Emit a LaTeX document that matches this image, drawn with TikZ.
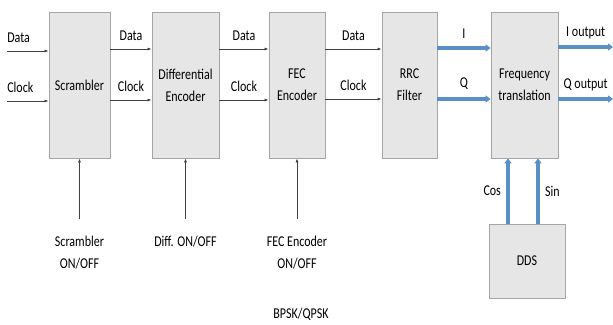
\documentclass[tikz,border=0pt]{standalone}
\usepackage{fontspec}
\setmainfont{Carlito}[FakeStretch=0.8]
\usepackage{tikz}
\usetikzlibrary{arrows.meta,positioning}
\definecolor{boxgray}{HTML}{E7E6E6}
\definecolor{edgegray}{HTML}{A5A5A5}
\definecolor{iqblue}{HTML}{5B8FC7}
\tikzset{
	box/.style={draw=edgegray, fill=boxgray, line width=0.8pt, minimum height=146pt, align=center, inner sep=1pt},
	sig/.style={draw=black!75, line width=0.7pt, -{Latex[length=4pt,width=3pt]}},
	iq/.style={draw=iqblue, line width=3.5pt, -{Triangle[length=5pt,width=7pt]}},
	ctltext/.style={align=center},
	tag/.style={above=4.5pt}
}

\begin{document}
\begin{tikzpicture}[x=1pt, y=-1pt, font=\fontsize{15}{22}\selectfont]
		\useasboundingbox (0,0) rectangle (613,324);
		% blocks
		\node[box, minimum width=61pt] (scr) at (79.5,85) {Scrambler};
		\node[box, minimum width=67pt] (dif) at (185.5,85) {Differential\\Encoder};
		\node[box, minimum width=56pt] (fec) at (297,85) {FEC\\Encoder};
		\node[box, minimum width=55pt] (rrc) at (409.5,85) {RRC\\Filter};
		\node[box, minimum width=67pt] (frq) at (524.5,85) {Frequency\\translation};
		\node[box, minimum width=76pt, minimum height=74pt] (dds) at (527,261) {DDS};
		% inputs
		\coordinate (din) at (7,51);
		\coordinate (cin) at (7,101);
		\draw[sig] (din) -- (din -| scr.west) node[pos=0, anchor=south west, inner xsep=0pt, yshift=4.5pt] {Data};
		\draw[sig] (cin) -- (cin -| scr.west) node[pos=0, anchor=south west, inner xsep=0pt, yshift=4.5pt] {Clock};
		% data and clock between blocks
		\draw[sig] ([yshift=36pt]scr.east) -- ([yshift=36pt]dif.west) node[midway, tag] {Data};
		\draw[sig] ([yshift=-15pt]scr.east) -- ([yshift=-15pt]dif.west) node[midway, tag] {Clock};
		\draw[sig] ([yshift=36pt]dif.east) -- ([yshift=36pt]fec.west) node[midway, tag] {Data};
		\draw[sig] ([yshift=-15pt]dif.east) -- ([yshift=-15pt]fec.west) node[midway, tag] {Clock};
		\draw[sig] ([yshift=36pt]fec.east) -- ([yshift=36pt]rrc.west) node[midway, tag] {Data};
		\draw[sig] ([yshift=-14pt]fec.east) -- ([yshift=-14pt]rrc.west) node[midway, tag] {Clock};
		% I and Q
		\draw[iq] ([yshift=37pt]rrc.east) -- ([yshift=37pt]frq.west) node[midway, tag] {I};
		\draw[iq] ([yshift=-14pt]rrc.east) -- ([yshift=-14pt]frq.west) node[midway, tag] {Q};
		\coordinate (iout) at (613,47);
		\coordinate (qout) at (613,99);
		\draw[iq] (frq.east |- iout) -- (iout) node[midway, above=3pt] {I output};
		\draw[iq] (frq.east |- qout) -- (qout) node[midway, above=3pt] {Q output};
		% DDS
		\draw[iq] ([xshift=-19pt]dds.north) -- ([xshift=-19pt]dds.north |- frq.south) node[midway, left=2pt] {Cos};
		\draw[iq] ([xshift=11pt]dds.north) -- ([xshift=11pt]dds.north |- frq.south) node[midway, right=2pt] {Sin};
		% settings
		\node[ctltext, below=74pt of scr.south] (scrctl) {Scrambler\\ON/OFF};
		\node[ctltext, below=74pt of dif.south] (difctl) {Diff. ON/OFF};
		\node[ctltext, below=74pt of fec.south] (fecctl) {FEC Encoder\\ON/OFF};
		\node (mode) at (301,314) {BPSK/QPSK};
		\draw[sig] ([yshift=13pt]scrctl.north) -- (scr.south);
		\draw[sig] ([yshift=13pt]difctl.north) -- (dif.south);
		\draw[sig] ([yshift=13pt]fecctl.north) -- (fec.south);
	\end{tikzpicture}
\end{document}
